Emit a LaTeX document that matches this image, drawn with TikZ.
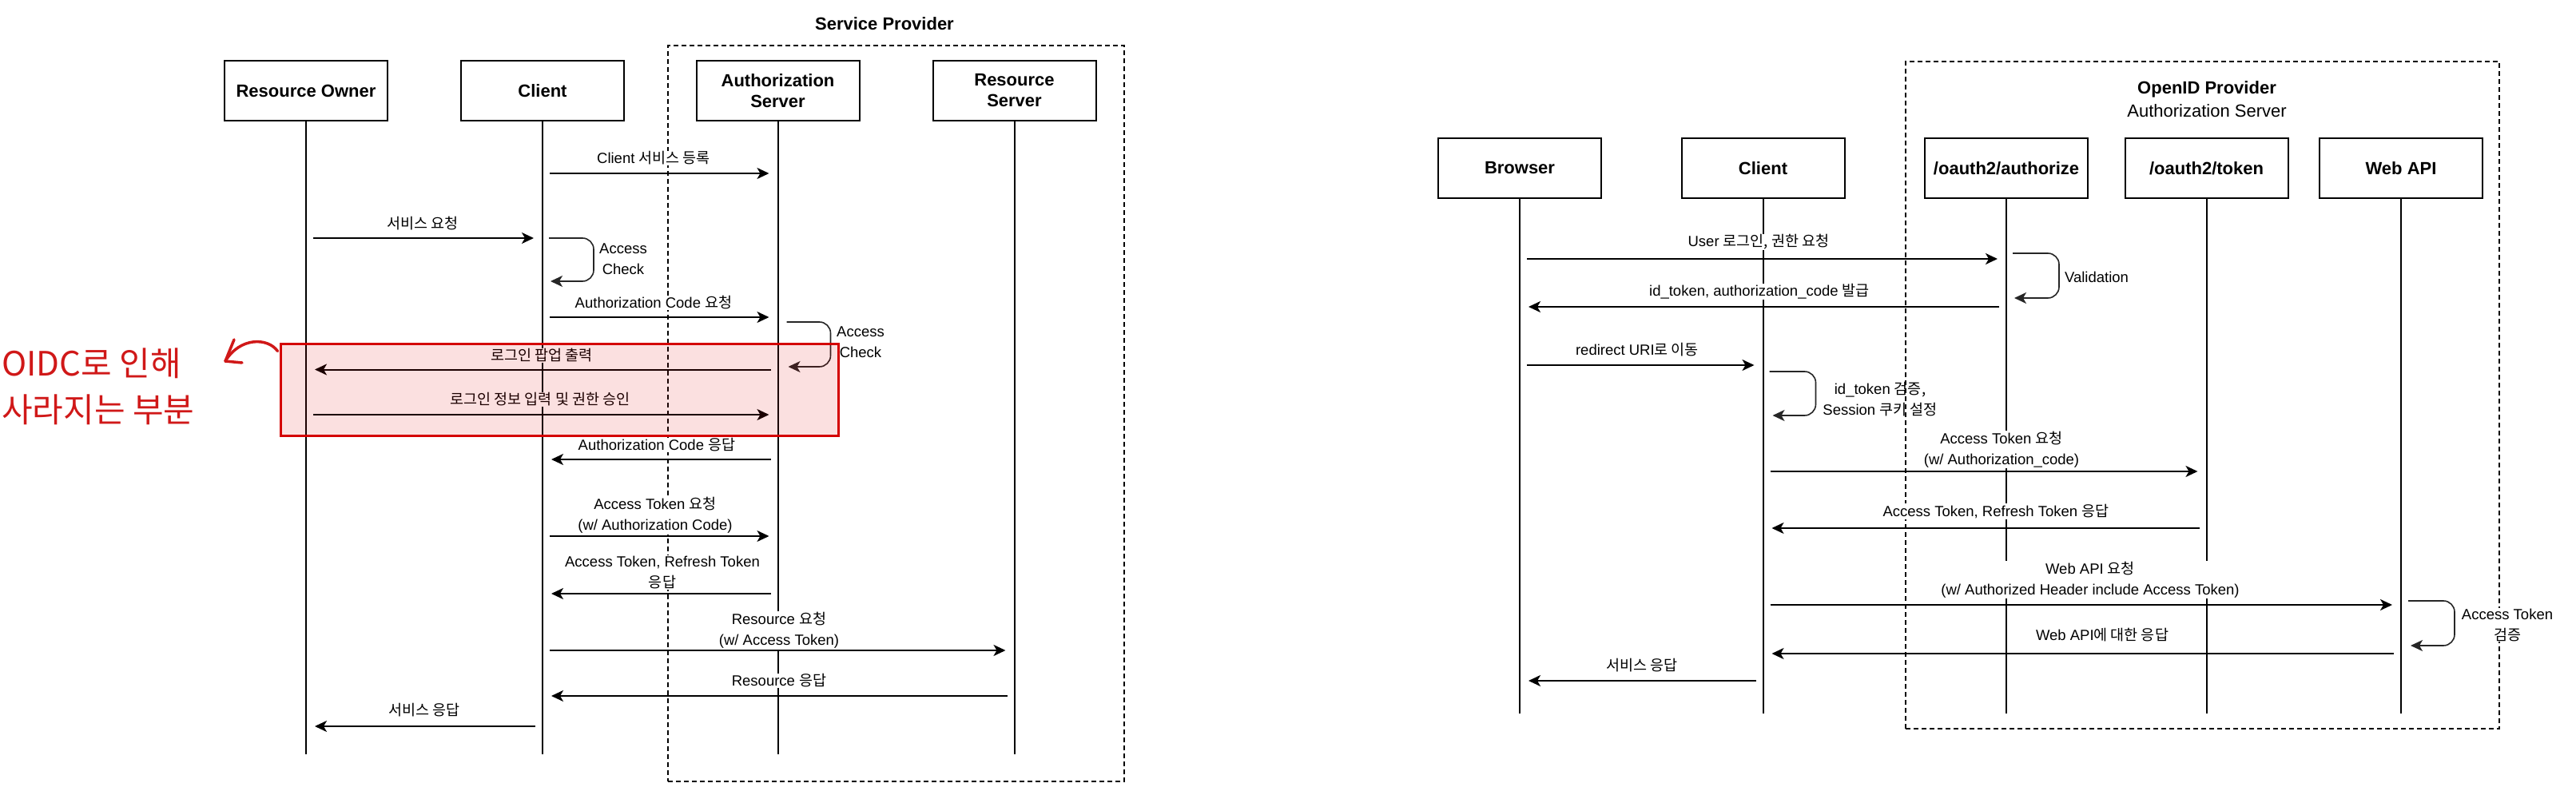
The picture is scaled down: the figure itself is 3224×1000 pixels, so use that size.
\documentclass[tikz,border=0pt]{standalone}
\usepackage{fontspec}
\setmainfont{Liberation Sans}
\newfontfamily\kr{Noto Sans CJK KR}
\usetikzlibrary{arrows.meta,calc}
\definecolor{redline}{HTML}{D40000}
\definecolor{handred}{HTML}{D01818}
\begin{document}
\begin{tikzpicture}[x=1pt,y=-1pt,
  actor/.style={draw,line width=2pt,minimum width=204pt,minimum height=75pt,inner sep=0pt,
    font=\fontsize{22}{26}\selectfont\bfseries,align=center},
  life/.style={line width=2pt},
  msg/.style={line width=2pt,-{Stealth[length=15pt,width=14pt,inset=4pt]},shorten <=9pt,shorten >=11pt},
  selfloop/.style={line width=1.6pt,draw=black!85,rounded corners=14pt,-{Stealth[length=15pt,width=14pt,inset=4pt]}},
  lbl/.style={fill=white,inner sep=1pt,font=\fontsize{18.5}{26}\selectfont,align=center},
  grpbox/.style={draw,line width=1.6pt,dash pattern=on 6pt off 4pt,inner sep=0pt},
  ttl/.style={inner sep=0pt,font=\fontsize{22}{27}\selectfont,align=center}
]
\useasboundingbox[fill=white] (0,0) rectangle (3224,1000);

% ================= LEFT DIAGRAM =================
\node[grpbox,minimum width=571pt,minimum height=921pt] (spbox) at (1121.5,517.5) {};
\node[ttl,font=\fontsize{22}{27}\selectfont\bfseries] (sptitle) at (1107,30) {Service Provider};

\node[actor] (ro) at (383,113.5) {Resource Owner};
\node[actor] (cl) at (679,113.5) {Client};
\node[actor] (as) at (973.5,113.5) {Authorization\\Server};
\node[actor] (rs) at (1269.5,113.5) {Resource\\Server};

\coordinate (roE) at (383,944);
\coordinate (clE) at (679,944);
\coordinate (asE) at (973.5,944);
\coordinate (rsE) at (1269.5,944);
\draw[life] (ro.south) -- (roE);
\draw[life] (cl.south) -- (clE);
\draw[life] (as.south) -- (asE);
\draw[life] (rs.south) -- (rsE);

\draw[msg] (cl |- 0,217) -- (as |- 0,217);
\draw[msg] (ro |- 0,298) -- (cl |- 0,298);
\draw[selfloop] ($(cl |- 0,298)+(8,0)$) -- ++(56,0) -- ++(0,54) -- ($(cl |- 0,352)+(10,0)$);
\draw[msg] (cl |- 0,397) -- (as |- 0,397);
\draw[selfloop] ($(as |- 0,403)+(11,0)$) -- ++(55,0) -- ++(0,56) -- ($(as |- 0,459)+(13,0)$);
\draw[msg] (as |- 0,462.5) -- (ro |- 0,462.5);
\draw[msg] (ro |- 0,519) -- (as |- 0,519);
\draw[msg] (as |- 0,575) -- (cl |- 0,575);
\draw[msg] (cl |- 0,671) -- (as |- 0,671);
\draw[msg] (as |- 0,743) -- (cl |- 0,743);
\draw[msg] (cl |- 0,814) -- (rs |- 0,814);
\draw[msg] (rs |- 0,871) -- (cl |- 0,871);
\draw[msg] (cl |- 0,909) -- (ro |- 0,909);

\node[lbl] (l1) at (818,198) {Client {\kr 서비스 등록}};
\node[lbl] (l2) at (529,280) {\kr 서비스 요청};
\node[lbl] (l3) at (780,324.5) {Access\\Check};
\node[lbl] (l4) at (818,379) {Authorization Code {\kr 요청}};
\node[lbl] (l5) at (1077,428.5) {Access\\Check};
\node[lbl] (l6) at (678,445) {\kr 로그인 팝업 출력};
\node[lbl] (l7) at (676,500) {\kr 로그인 정보 입력 및 권한 승인};
\node[lbl] (l8) at (822,557) {Authorization Code {\kr 응답}};
\node[lbl] (l9) at (820,645) {Access Token {\kr 요청}\\(w/ Authorization Code)};
\node[lbl] (l10) at (829,716.5) {Access Token, Refresh Token\\{\kr 응답}};
\node[lbl] (l11) at (975,789) {Resource {\kr 요청}\\(w/ Access Token)};
\node[lbl] (l12) at (975,852) {Resource {\kr 응답}};
\node[lbl] (l13) at (531,889) {\kr 서비스 응답};

% red overlay
\node[draw=redline,line width=3pt,fill=red!90!black,fill opacity=0.12,inner sep=0pt,
  minimum width=698pt,minimum height=115pt] (oidcbox) at (700,487.5) {};

% handwritten note
\node[anchor=west,inner sep=0pt,text=handred,font=\kr\fontsize{42}{58}\selectfont,align=left] (note) at (2,484) {OIDC로 인해\\사라지는 부분};
\coordinate (hs) at ($(oidcbox.north west)+(-2,11)$);
\coordinate (ht) at (282,452);
\coordinate (hb1) at (293,425);
\coordinate (hb2) at (303,454);
\draw[handred,line width=3.5pt,line cap=round] (hs) .. controls (335,422) and (300,422) .. (ht);
\draw[handred,line width=3.5pt,line cap=round] (ht) -- (hb1);
\draw[handred,line width=3.5pt,line cap=round] (ht) -- (hb2);

% ================= RIGHT DIAGRAM =================
\node[grpbox,minimum width=743pt,minimum height=835pt] (opbox) at (2756.5,494.5) {};
\node[ttl,font=\fontsize{22}{27}\selectfont\bfseries] (optitle) at (2762,112) {OpenID Provider};
\node[ttl] (opsub) at (2762,139) {Authorization Server};

\begin{scope}[every node/.append style={minimum width=210pt,minimum height=77pt}]
\node[actor] (br) at (1902,210.5) {Browser};
\node[actor] (cl2) at (2206.5,210.5) {Client};
\node[actor] (au) at (2511,210.5) {/oauth2/authorize};
\node[actor] (tk) at (2761.5,210.5) {/oauth2/token};
\node[actor] (wa) at (3005,210.5) {Web API};
\end{scope}

\coordinate (brE) at (1902,893);
\coordinate (cl2E) at (2206.5,893);
\coordinate (auE) at (2511,893);
\coordinate (tkE) at (2761.5,893);
\coordinate (waE) at (3005,893);
\draw[life] (br.south) -- (brE);
\draw[life] (cl2.south) -- (cl2E);
\draw[life] (au.south) -- (auE);
\draw[life] (tk.south) -- (tkE);
\draw[life] (wa.south) -- (waE);

\draw[msg] (br |- 0,324) -- (au |- 0,324);
\draw[selfloop] ($(au |- 0,317)+(8,0)$) -- ++(58,0) -- ++(0,56) -- ($(au |- 0,373)+(10,0)$);
\draw[msg] (au |- 0,384) -- (br |- 0,384);
\draw[msg] (br |- 0,457) -- (cl2 |- 0,457);
\draw[selfloop] ($(cl2 |- 0,465)+(8,0)$) -- ++(58,0) -- ++(0,55) -- ($(cl2 |- 0,520)+(12,0)$);
\draw[msg] (cl2 |- 0,590) -- (tk |- 0,590);
\draw[msg] (tk |- 0,661) -- (cl2 |- 0,661);
\draw[msg] (cl2 |- 0,757) -- (wa |- 0,757);
\draw[selfloop] ($(wa |- 0,752)+(9,0)$) -- ++(58,0) -- ++(0,56) -- ($(wa |- 0,808)+(12,0)$);
\draw[msg] (wa |- 0,818) -- (cl2 |- 0,818);
\draw[msg] (cl2 |- 0,852) -- (br |- 0,852);

\node[lbl] (r1) at (2201,303) {User {\kr 로그인, 권한 요청}};
\node[lbl] (r2) at (2202,365) {id\_token, authorization\_code {\kr 발급}};
\node[lbl] (r3) at (2624,347) {Validation};
\node[lbl] (r4) at (2049,438) {redirect URI{\kr 로 이동}};
\node[lbl,fill=none] (r5) at (2353,499.5) {id\_token {\kr 검증,}\\Session {\kr 쿠키 설정}};
\node[lbl] (r6) at (2505,562.5) {Access Token {\kr 요청}\\(w/ Authorization\_code)};
\node[lbl] (r7) at (2498,640) {Access Token, Refresh Token {\kr 응답}};
\node[lbl] (r8) at (2616,725.5) {Web API {\kr 요청}\\(w/ Authorized Header include Access Token)};
\node[lbl] (r9) at (3138,782) {Access Token\\{\kr 검증}};
\node[lbl] (r10) at (2631,795) {Web API{\kr 에 대한 응답}};
\node[lbl] (r11) at (2055,833) {\kr 서비스 응답};
\end{tikzpicture}
\end{document}
